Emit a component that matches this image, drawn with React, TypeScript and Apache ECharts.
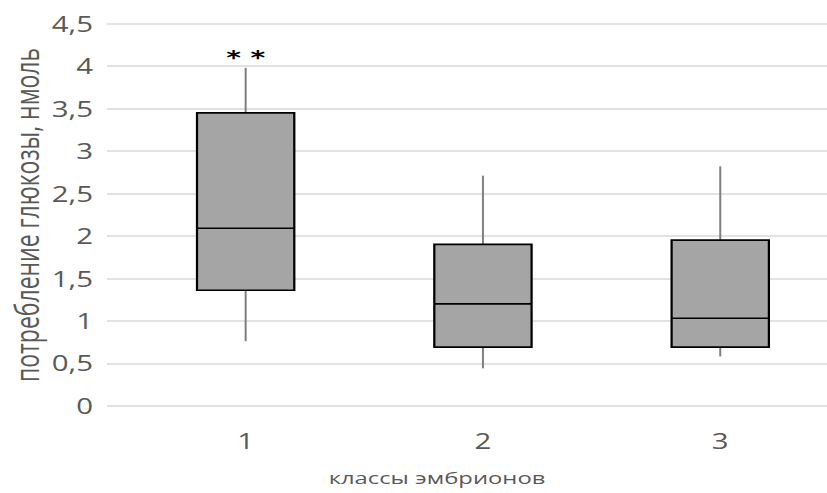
import React, { useEffect, useRef } from "react";
import * as echarts from "echarts";

// Embryo classes and glucose-consumption distributions (nmol)
const classes = ["1", "2", "3"];
const whiskerLow = [0.76, 0.44, 0.58];
const quartile1 = [1.36, 0.69, 0.69];
const medians = [2.09, 1.2, 1.03];
const quartile3 = [3.45, 1.9, 1.95];
const whiskerHigh = [3.98, 2.71, 2.82];
const significance = ["* *", "", ""];
const yTicks = { min: 0, max: 4.5, step: 0.5 };

const yTitle = "потребление глюкозы, нмоль";
const xTitle = "классы эмбрионов";

const TICK_COLOR = "#595959";
const FONT = "'Open Sans', 'DejaVu Sans', sans-serif";

// The chart is drawn on a narrower canvas and widened with a horizontal scale,
// giving the broad lettering of the original layout. The plot runs past the
// right edge, so the canvas is a little wider than the visible frame.
const STRETCH = 1.4;
const OUT_W = 827;
const OUT_H = 493;
const CANVAS_W = 870;
const W = CANVAS_W / STRETCH;
const sx = (px: number) => px / STRETCH;

export default function App() {
  const ref = useRef<HTMLDivElement>(null);

  useEffect(() => {
    if (!ref.current) return;
    const chart = echarts.init(ref.current, undefined, { renderer: "svg" });

    const boxData = classes.map((_, i) => [
      i,
      whiskerLow[i],
      quartile1[i],
      medians[i],
      quartile3[i],
      whiskerHigh[i],
    ]);

    const top = 23.7;
    const bottom = OUT_H - 405.7;

    chart.setOption({
      animation: false,
      backgroundColor: "#ffffff",
      grid: [
        { left: sx(107), right: sx(CANVAS_W - 835), top, bottom },
        { left: sx(127), right: sx(CANVAS_W - 839.5), top, bottom },
      ],
      xAxis: [
        { gridIndex: 0, type: "value", show: false, min: 0, max: 1 },
        {
          gridIndex: 1,
          type: "category",
          data: classes,
          axisLine: { show: false },
          axisTick: { show: false },
          axisLabel: {
            color: TICK_COLOR,
            fontFamily: FONT,
            fontSize: 21,
            margin: 25,
          },
        },
      ],
      yAxis: [
        {
          gridIndex: 0,
          type: "value",
          min: yTicks.min,
          max: yTicks.max,
          interval: yTicks.step,
          axisLine: { show: false },
          axisTick: { show: false },
          axisLabel: {
            color: TICK_COLOR,
            fontFamily: FONT,
            fontSize: 21,
            margin: 10,
            formatter: (v: number) => String(v).replace(".", ","),
          },
          splitLine: { lineStyle: { color: "#d9d9d9", width: 1.6 } },
        },
        {
          gridIndex: 1,
          type: "value",
          min: yTicks.min,
          max: yTicks.max,
          interval: yTicks.step,
          show: false,
          splitLine: { show: false },
        },
      ],
      graphic: [
        {
          type: "text",
          x: sx(26),
          y: 215,
          rotation: Math.PI / 2,
          style: {
            text: yTitle,
            fill: TICK_COLOR,
            font: `23px ${FONT}`,
            textAlign: "center",
            textVerticalAlign: "middle",
          },
        },
        {
          type: "text",
          x: sx(437),
          y: 477,
          style: {
            text: xTitle,
            fill: TICK_COLOR,
            font: `17px ${FONT}`,
            textAlign: "center",
            textVerticalAlign: "middle",
          },
        },
      ],
      series: [
        {
          type: "custom",
          xAxisIndex: 1,
          yAxisIndex: 1,
          data: boxData,
          encode: { x: 0, y: [1, 2, 3, 4, 5] },
          renderItem: (params: any, api: any) => {
            const x = api.value(0);
            const lo = api.coord([x, api.value(1)]);
            const q1 = api.coord([x, api.value(2)]);
            const md = api.coord([x, api.value(3)]);
            const q3 = api.coord([x, api.value(4)]);
            const hi = api.coord([x, api.value(5)]);
            const bw = api.size([1, 0])[0] * 0.41;
            const cx = lo[0];
            const whiskerW = 2 / STRETCH;
            const children: any[] = [
              {
                type: "line",
                shape: { x1: cx, y1: hi[1], x2: cx, y2: q3[1] },
                style: { stroke: "#7f7f7f", lineWidth: whiskerW },
              },
              {
                type: "line",
                shape: { x1: cx, y1: q1[1], x2: cx, y2: lo[1] },
                style: { stroke: "#7f7f7f", lineWidth: whiskerW },
              },
              {
                type: "rect",
                shape: { x: cx - bw / 2, y: q3[1], width: bw, height: q1[1] - q3[1] },
                style: { fill: "#a5a5a5", stroke: "#000000", lineWidth: 1.6 },
              },
              {
                type: "line",
                shape: { x1: cx - bw / 2, y1: md[1], x2: cx + bw / 2, y2: md[1] },
                style: { stroke: "#000000", lineWidth: 1.6 },
              },
            ];
            const mark = significance[params.dataIndex];
            if (mark) {
              children.push({
                type: "text",
                x: cx,
                y: hi[1] - 1,
                style: {
                  text: mark,
                  fill: "#000000",
                  font: "bold 20px 'DejaVu Sans', sans-serif",
                  textAlign: "center",
                  textVerticalAlign: "bottom",
                },
              });
            }
            return { type: "group", children };
          },
        },
      ],
    });

    return () => chart.dispose();
  }, []);

  return (
    <div
      style={{
        position: "fixed",
        left: 0,
        top: 0,
        width: OUT_W,
        height: OUT_H,
        overflow: "hidden",
        background: "#ffffff",
      }}
    >
      <div
        ref={ref}
        style={{
          width: W,
          height: OUT_H,
          transform: `scaleX(${STRETCH})`,
          transformOrigin: "0 0",
        }}
      />
    </div>
  );
}
